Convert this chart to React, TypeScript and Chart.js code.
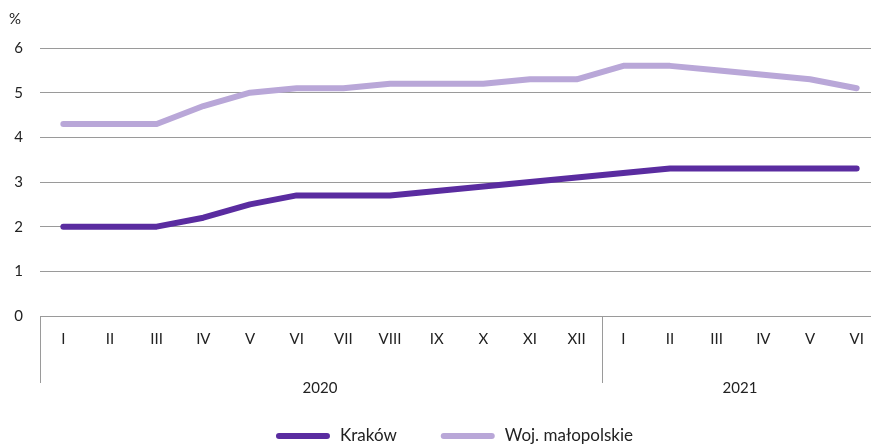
import React, { useEffect, useRef } from "react";
import { Chart, registerables } from "chart.js";

Chart.register(...registerables);

const months = ["I", "II", "III", "IV", "V", "VI", "VII", "VIII", "IX", "X", "XI", "XII", "I", "II", "III", "IV", "V", "VI"];
const years = ["2020", "2021"];
const yearSizes = [12, 6];
const krakow = [2.0, 2.0, 2.0, 2.2, 2.5, 2.7, 2.7, 2.7, 2.8, 2.9, 3.0, 3.1, 3.2, 3.3, 3.3, 3.3, 3.3, 3.3];
const wojMalopolskie = [4.3, 4.3, 4.3, 4.7, 5.0, 5.1, 5.1, 5.2, 5.2, 5.2, 5.3, 5.3, 5.6, 5.6, 5.5, 5.4, 5.3, 5.1];
const seriesNames = ["Kraków", "Woj. małopolskie"];
const seriesColors = ["#5A2CA0", "#B9A7D8"];
const yTicks = [0, 1, 2, 3, 4, 5, 6];

const FONT = "Lato, Open Sans, sans-serif";
const VIEW_W = 871;
const CANVAS_W = 880;

const extrasPlugin = {
  id: "extras",
  afterDraw(chart: any) {
    const ctx = chart.ctx;
    const area = chart.chartArea;
    const x = chart.scales.x;
    ctx.save();
    ctx.fillStyle = "#222";
    ctx.font = `15px ${FONT}`;
    ctx.textAlign = "center";
    ctx.textBaseline = "middle";
    ctx.fillText("%", 15, 19);

    ctx.strokeStyle = "#9a9a9a";
    ctx.lineWidth = 1;
    let start = 0;
    const bottom = area.bottom + 67;
    const boundaries: number[] = [];
    yearSizes.forEach((n, gi) => {
      const leftPx = start === 0 ? area.left : (x.getPixelForValue(start - 1) + x.getPixelForValue(start)) / 2;
      const endIdx = start + n - 1;
      const rightPx = endIdx === months.length - 1 ? area.right : (x.getPixelForValue(endIdx) + x.getPixelForValue(endIdx + 1)) / 2;
      boundaries.push(leftPx);
      ctx.fillStyle = "#222";
      ctx.font = `15px ${FONT}`;
      ctx.fillText(years[gi], (leftPx + rightPx) / 2, area.bottom + 72);
      start += n;
    });
    boundaries.forEach((bx, i) => {
      const px = Math.round(bx) + (i === 0 ? 0.5 : 2.5);
      ctx.beginPath();
      ctx.moveTo(px, area.bottom);
      ctx.lineTo(px, bottom);
      ctx.stroke();
    });

    ctx.font = `17px ${FONT}`;
    ctx.textAlign = "left";
    const lineW = 54;
    const gapText = 10;
    const gapItems = 44;
    const widths = seriesNames.map((s) => lineW + gapText + ctx.measureText(s).width);
    const total = widths.reduce((a, b) => a + b, 0) + gapItems * (widths.length - 1);
    let cx = (VIEW_W - total) / 2 + 19;
    const ly = 436;
    seriesNames.forEach((s, i) => {
      ctx.strokeStyle = seriesColors[i];
      ctx.lineWidth = 6;
      ctx.lineCap = "round";
      ctx.beginPath();
      ctx.moveTo(cx + 3, ly);
      ctx.lineTo(cx + lineW - 3, ly);
      ctx.stroke();
      ctx.fillStyle = "#222";
      ctx.fillText(s, cx + lineW + gapText, ly);
      cx += widths[i] + gapItems;
    });
    ctx.restore();
  },
};

export default function App() {
  const ref = useRef<HTMLCanvasElement>(null);
  useEffect(() => {
    document.body.style.margin = "0";
    const chart = new Chart(ref.current as HTMLCanvasElement, {
      type: "line",
      data: {
        labels: months,
        datasets: [
          { label: seriesNames[0], data: krakow, borderColor: seriesColors[0], backgroundColor: seriesColors[0], borderWidth: 6, pointRadius: 0, tension: 0, borderCapStyle: "round", borderJoinStyle: "round" },
          { label: seriesNames[1], data: wojMalopolskie, borderColor: seriesColors[1], backgroundColor: seriesColors[1], borderWidth: 6, pointRadius: 0, tension: 0, borderCapStyle: "round", borderJoinStyle: "round" },
        ],
      },
      options: {
        animation: false,
        responsive: false,
        maintainAspectRatio: false,
        layout: { padding: { top: 48, right: 0, left: 0, bottom: 0 } },
        plugins: { legend: { display: false }, tooltip: { enabled: false } },
        scales: {
          x: {
            offset: true,
            grid: { display: false, drawTicks: false },
            border: { display: true, color: "#9a9a9a", width: 1 },
            ticks: { color: "#222", font: { family: FONT, size: 15 }, padding: 14, maxRotation: 0, autoSkip: false },
            afterFit(scale: any) { scale.height = 445 - 316; },
          },
          y: {
            min: 0,
            max: 6,
            afterBuildTicks(scale: any) { scale.ticks = yTicks.map((v) => ({ value: v })); },
            grid: { color: "#9a9a9a", lineWidth: 1, drawTicks: false },
            border: { display: false },
            ticks: { color: "#222", font: { family: FONT, size: 15 }, padding: 17 },
            afterFit(scale: any) { scale.width = 40; },
          },
        },
      },
      plugins: [extrasPlugin],
    } as any);
    return () => chart.destroy();
  }, []);
  return (
    <div style={{ width: VIEW_W, height: 445, overflow: "hidden" }}>
      <canvas ref={ref} width={CANVAS_W} height={445} style={{ display: "block" }} />
    </div>
  );
}
